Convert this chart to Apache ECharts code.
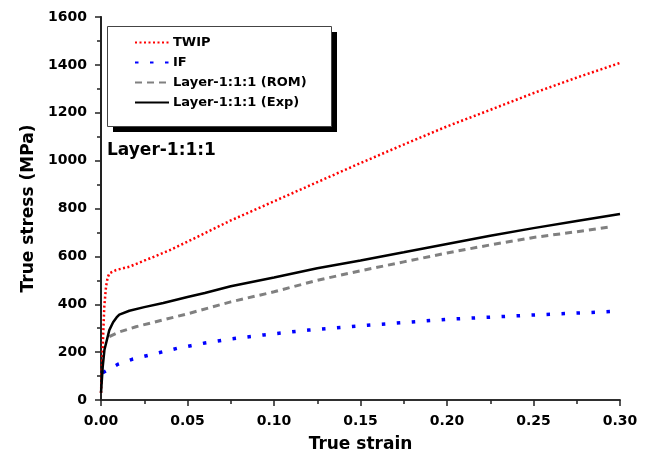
<!DOCTYPE html>
<html>
<head>
<meta charset="utf-8">
<script src="https://cdn.jsdelivr.net/npm/echarts@6/dist/echarts.min.js"></script>
<style>
  html, body { margin: 0; padding: 0; background: #fff; }
  #chart { width: 648px; height: 460px; }
</style>
</head>
<body>
<div id="chart"></div>
<script>
// values (strain, MPa)
var twipStrain = [0, 0.001, 0.0019, 0.0029, 0.0038, 0.0048, 0.0087, 0.0164, 0.026, 0.0395, 0.053, 0.075, 0.1, 0.125, 0.15, 0.175, 0.2, 0.225, 0.25, 0.275, 0.3];
var twipStress = [29, 223, 390, 473, 510, 529, 543, 557, 585, 625, 672, 750, 830, 910, 990, 1067, 1143, 1212, 1282, 1347, 1408];

var ifStrain = [0.001, 0.01, 0.018, 0.027, 0.036, 0.044, 0.052, 0.06, 0.075, 0.094, 0.12, 0.154, 0.2, 0.25, 0.296];
var ifStress = [114, 150, 170, 186, 202, 216, 227, 238, 255, 272, 292, 312, 337, 355, 370];

var romStrain = [0.0048, 0.01, 0.0202, 0.035, 0.05, 0.075, 0.1, 0.125, 0.15, 0.175, 0.2, 0.225, 0.25, 0.275, 0.295];
var romStress = [265, 283, 306, 333, 360, 410, 452, 500, 540, 577, 614, 648, 679, 703, 724];

var expStrain = [0, 0.001, 0.002, 0.0048, 0.007, 0.009, 0.0106, 0.0164, 0.025, 0.036, 0.05, 0.06, 0.075, 0.1, 0.125, 0.15, 0.175, 0.2, 0.225, 0.25, 0.275, 0.3];
var expStress = [30, 139, 210, 292, 325, 345, 357, 373, 388, 405, 430, 447, 475, 512, 550, 583, 617, 652, 686, 718, 748, 777];

var names = ['TWIP', 'IF', 'Layer-1:1:1 (ROM)', 'Layer-1:1:1 (Exp)'];

function pairs(xs, ys) {
    var out = [];
    for (var i = 0; i < xs.length; i++) out.push([xs[i], ys[i]]);
    return out;
}

var chart = echarts.init(document.getElementById('chart'), null, {renderer: 'canvas'});
var font = 'DejaVu Sans, sans-serif';
var axisCol = '#222';

var option = {
    animation: false,
    backgroundColor: '#fff',
    grid: {left: 101, right: 28, top: 17, bottom: 60},
    title: {
        text: 'Layer-1:1:1', left: 107, top: 142, padding: 0,
        textStyle: {fontFamily: font, fontWeight: 'bold', fontSize: 17, color: '#000'}
    },
    // legend frame with its black drop shadow
    graphic: [{
        type: 'rect', z: 1, silent: true,
        shape: {x: 113, y: 32, width: 224, height: 100},
        style: {fill: '#000'}
    }, {
        type: 'rect', z: 2, silent: true,
        shape: {x: 107.5, y: 26.5, width: 224, height: 100},
        style: {fill: '#fff', stroke: '#444', lineWidth: 1}
    }],
    legend: {
        orient: 'vertical', left: 134, top: 36, padding: 0,
        itemGap: 7, itemWidth: 34, itemHeight: 14,
        itemStyle: {opacity: 0},
        textStyle: {fontFamily: font, fontWeight: 'bold', fontSize: 13, color: '#000', padding: [0, 0, 0, -1]},
        data: names
    },
    xAxis: [{
        type: 'value', min: 0, max: 0.3, interval: 0.05,
        name: 'True strain', nameLocation: 'middle', nameGap: 36,
        nameTextStyle: {fontFamily: font, fontWeight: 'bold', fontSize: 17, color: '#000'},
        axisLine: {lineStyle: {color: axisCol, width: 1.5}},
        axisTick: {length: 6, lineStyle: {color: axisCol, width: 1.5}},
        minorTick: {show: true, splitNumber: 2, length: 4, lineStyle: {color: axisCol, width: 1.5}},
        axisLabel: {fontFamily: font, fontWeight: 'bold', fontSize: 14, color: '#000', margin: 14,
            formatter: function (v) { return v.toFixed(2); }},
        splitLine: {show: false}
    }, {
        type: 'value', position: 'top', min: 0, max: 0.3, interval: 0.05,
        axisLine: {lineStyle: {color: axisCol, width: 1.5}},
        axisTick: {inside: true, length: 6, lineStyle: {color: axisCol, width: 1.5}},
        minorTick: {show: true, splitNumber: 2, length: 4, lineStyle: {color: axisCol, width: 1.5}},
        axisLabel: {show: false}, splitLine: {show: false}
    }],
    yAxis: [{
        type: 'value', min: 0, max: 1600, interval: 200,
        name: 'True stress (MPa)', nameLocation: 'middle', nameGap: 64,
        nameTextStyle: {fontFamily: font, fontWeight: 'bold', fontSize: 17, color: '#000'},
        axisLine: {show: true, lineStyle: {color: axisCol, width: 1.5}},
        axisTick: {show: true, length: 6, lineStyle: {color: axisCol, width: 1.5}},
        minorTick: {show: true, splitNumber: 2, length: 4, lineStyle: {color: axisCol, width: 1.5}},
        axisLabel: {fontFamily: font, fontWeight: 'bold', fontSize: 14, color: '#000', margin: 14,
            formatter: function (v) { return String(v); }},
        splitLine: {show: false}
    }, {
        type: 'value', position: 'right', min: 0, max: 1600, interval: 200,
        axisLine: {show: true, lineStyle: {color: axisCol, width: 2}},
        axisTick: {show: true, inside: true, length: 6, lineStyle: {color: axisCol, width: 1.5}},
        minorTick: {show: true, splitNumber: 2, length: 4, lineStyle: {color: axisCol, width: 1.5}},
        axisLabel: {show: false}, splitLine: {show: false}
    }],
    series: [{
        name: names[0], type: 'line', symbol: 'none', z: 2,
        data: pairs(twipStrain, twipStress),
        itemStyle: {color: '#ff0000'},
        lineStyle: {color: '#ff0000', width: 2.5, type: [2, 2.5]}
    }, {
        name: names[1], type: 'line', symbol: 'none', z: 2,
        data: pairs(ifStrain, ifStress),
        itemStyle: {color: '#0000ff'},
        lineStyle: {color: '#0000ff', width: 3.5, type: [3.5, 11.5]}
    }, {
        name: names[2], type: 'line', symbol: 'none', z: 2,
        data: pairs(romStrain, romStress),
        itemStyle: {color: '#808080'},
        lineStyle: {color: '#808080', width: 3, type: [7, 5]}
    }, {
        name: names[3], type: 'line', symbol: 'none', z: 3,
        data: pairs(expStrain, expStress),
        itemStyle: {color: '#000'},
        lineStyle: {color: '#000', width: 2.5, type: 'solid'}
    }]
};

chart.setOption(option);
</script>
</body>
</html>
